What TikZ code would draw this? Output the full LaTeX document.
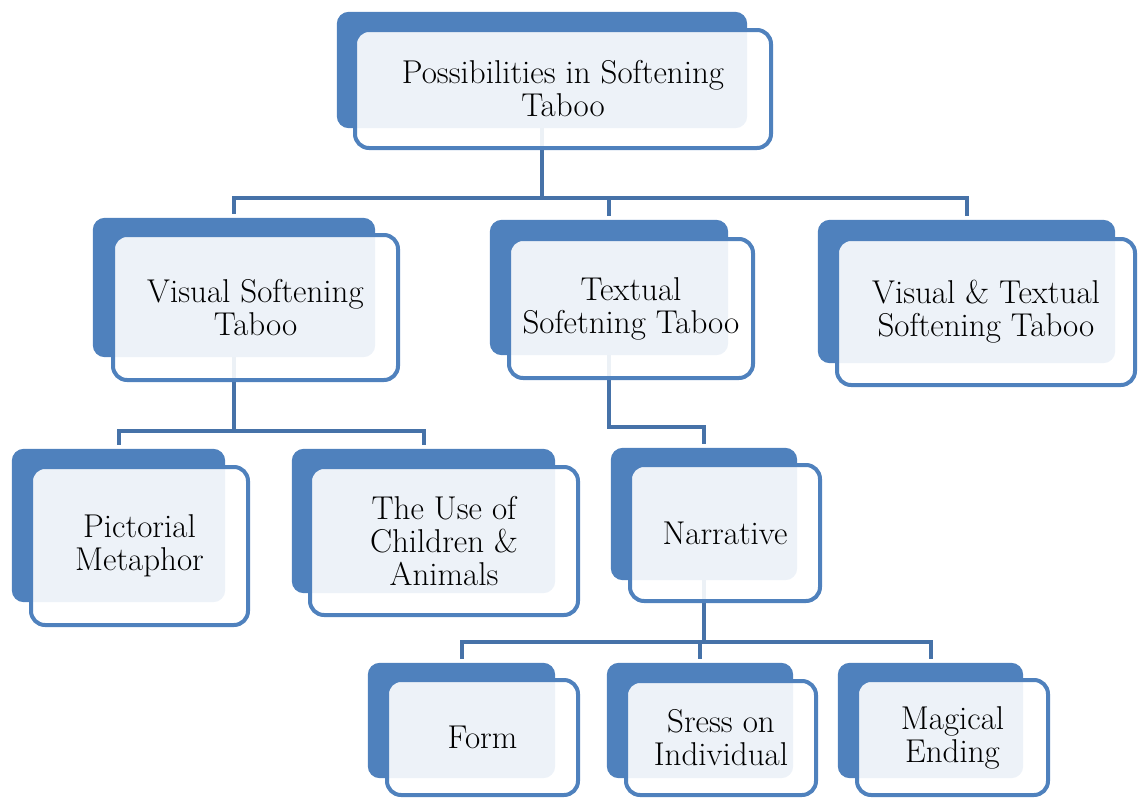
\documentclass[tikz,border=0pt]{standalone}
\definecolor{boxblue}{RGB}{79,129,189}
\definecolor{connblue}{RGB}{70,114,168}
\begin{document}
\begin{tikzpicture}[x=1pt,y=-1pt,
  frontbox/.style={draw=boxblue,line width=4pt,fill=white,fill opacity=0.9,text opacity=1,
     rounded corners=14pt,inner sep=0pt,align=center,
     font=\rmfamily\fontsize{33}{33}\selectfont},
  conn/.style={draw=connblue,line width=4pt}]
\useasboundingbox (0,0) rectangle (1138,798);
% back boxes (positions only, used as anchors)
\path
  (542,70)      node[minimum width=410pt,minimum height=116pt] (topB) {}
  (234,287.5)   node[minimum width=282pt,minimum height=139pt] (visB) {}
  (609,287.5)   node[minimum width=238pt,minimum height=135pt] (txtB) {}
  (966.5,291.5) node[minimum width=297pt,minimum height=143pt] (vtB) {}
  (118.5,525.5) node[minimum width=213pt,minimum height=153pt] (picB) {}
  (423.5,521)   node[minimum width=263pt,minimum height=144pt] (useB) {}
  (704,514)     node[minimum width=186pt,minimum height=132pt] (narB) {}
  (461.5,720.5) node[minimum width=187pt,minimum height=115pt] (formB) {}
  (700,720.5)   node[minimum width=186pt,minimum height=115pt] (sresB) {}
  (930.5,720.5) node[minimum width=185pt,minimum height=115pt] (magB) {};
% connectors
\draw[conn] (topB.south) -- ++(0,70) coordinate (j1);
\draw[conn,shorten >=4pt] (j1) -| (visB.north);
\draw[conn,shorten >=4pt] (j1) -| (txtB.north);
\draw[conn,shorten >=4pt] (j1) -| (vtB.north);
\draw[conn] (visB.south) -- ++(0,74) coordinate (j2);
\draw[conn,shorten >=4pt] (j2) -| (picB.north);
\draw[conn,shorten >=4pt] (j2) -| (useB.north);
\draw[conn,shorten >=4pt] (txtB.south) -- ++(0,72) -| (narB.north);
\draw[conn] (narB.south) -- ++(0,62) coordinate (j3);
\draw[conn,shorten >=4pt] (j3) -| (formB.north);
\draw[conn,shorten >=4pt] (j3) -| (sresB.north);
\draw[conn,shorten >=4pt] (j3) -| (magB.north);
% back boxes
\foreach \n in {topB,visB,txtB,vtB,picB,useB,narB,formB,sresB,magB}
  \fill[boxblue,rounded corners=12pt] (\n.south west) rectangle (\n.north east);
% front boxes
\node[frontbox,minimum width=416pt,minimum height=118pt] (top) at (563,89) {Possibilities in Softening\\Taboo};
\node[frontbox,minimum width=285pt,minimum height=145pt] (vis) at (255.5,307.5) {Visual Softening\\Taboo};
\node[frontbox,minimum width=244pt,minimum height=139pt] (txt) at (631,308.5) {Textual\\Sofetning Taboo};
\node[frontbox,minimum width=298pt,minimum height=146pt] (vt) at (986,312) {Visual \& Textual\\Softening Taboo};
\node[frontbox,minimum width=217pt,minimum height=158pt] (pic) at (139.5,546) {Pictorial\\Metaphor};
\node[frontbox,minimum width=268pt,minimum height=148pt] (use) at (444,541) {The Use of\\Children \&\\Animals};
\node[frontbox,minimum width=190pt,minimum height=136pt] (nar) at (725,533) {Narrative};
\node[frontbox,minimum width=191pt,minimum height=115pt] (form) at (482.5,737.5) {Form};
\node[frontbox,minimum width=190pt,minimum height=114pt] (sres) at (721,738) {Sress on\\Individual};
\node[frontbox,minimum width=191pt,minimum height=115pt] (mag) at (952.5,737.5) {Magical\\Ending};
\end{tikzpicture}
\end{document}
